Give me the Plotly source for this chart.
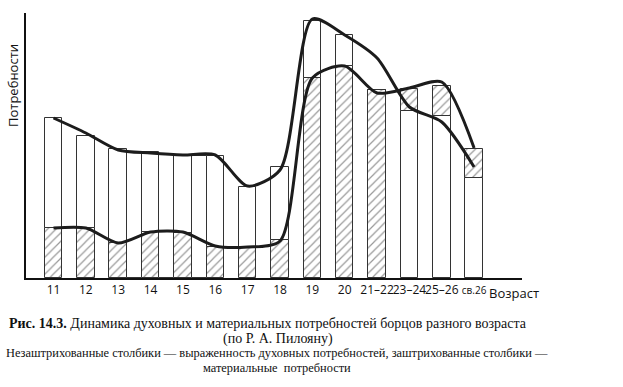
import plotly.graph_objects as go

# ---- data (arbitrary units) ----
ages = ["11", "12", "13", "14", "15", "16", "17", "18", "19", "20",
        "21–22", "23–24", "25–26", "св.26"]
tick_labels = ["11", "12", "13", "14", "15", "16", "17", "18", "19", "20",
               "21–22", "23–24", "25–26", "<span style='font-size:10px'>св.26</span>"]
# bar heights
spiritual = [160, 142, 129, 126, 123, 122, 91, 111, 257, 243, None, 167, 162, 100]
material = [50, 50, 35, 46, 45, 31, 31, 38, 200, 212, 188, 189, 192, 129]
# open columns drawn between neighbouring bars (13–14, 14–15, 15–16)
between_columns = [None, None, 126, 124, 122, None, None, None, None, None,
                   None, None, None, None]
# hand-drawn trend curves
spiritual_curve = [160, 145, 128, 125, 123, 123, 92, 108, 259, 243, 220, 171, 156, 111]
material_curve = [50, 50, 35, 46, 46, 32, 31, 37, 200, 212, 185, 190, 196, 130]

# ---- derived segments: the smaller bar is drawn in front ----
HATCH = "/"
bottom, top, bottom_pat, top_pat = [], [], [], []
for s, m in zip(spiritual, material):
    if s is None:
        bottom.append(m); top.append(0); bottom_pat.append(HATCH); top_pat.append("")
    elif m <= s:
        bottom.append(m); top.append(s - m); bottom_pat.append(HATCH); top_pat.append("")
    else:
        bottom.append(s); top.append(m - s); bottom_pat.append(""); top_pat.append(HATCH)

BAR_W = 0.54
fig = go.Figure()
bar_line = dict(color="#333333", width=1)

fig.add_trace(go.Bar(
    x=ages, y=between_columns, base=0, width=1 - BAR_W, offset=BAR_W / 2,
    marker=dict(color="white", line=bar_line),
    showlegend=False, hoverinfo="skip"))

for vals, base, pats in ((bottom, [0] * len(ages), bottom_pat), (top, bottom, top_pat)):
    fig.add_trace(go.Bar(
        x=ages, y=vals, base=base, width=BAR_W,
        marker=dict(color="white", line=bar_line,
                    pattern=dict(shape=pats, fgcolor="#333333", bgcolor="white",
                                 size=6, solidity=0.2, fillmode="overlay")),
        showlegend=False, hoverinfo="skip"))

for curve in (spiritual_curve, material_curve):
    fig.add_trace(go.Scatter(
        x=ages, y=curve, mode="lines",
        line=dict(color="#1c1c1c", width=3, shape="spline", smoothing=0.75),
        showlegend=False, hoverinfo="skip"))

W, H = 623, 387
L, R, T, B = 26, 101, 13, 109
pw, ph = W - L - R, H - T - B


def px(x):
    return (x - L) / pw


def py(y):
    return (H - B - y) / ph


fig.update_layout(
    width=W, height=H, margin=dict(l=L, r=R, t=T, b=B),
    paper_bgcolor="white", plot_bgcolor="white",
    barmode="overlay", bargap=0,
    font=dict(family="Open Sans", color="#111111"),
    xaxis=dict(type="category", categoryorder="array", categoryarray=ages,
               range=[-0.85, 14.48], showline=True, linecolor="#111111", linewidth=2,
               showgrid=False, zeroline=False, ticks="", tickangle=0,
               automargin=False,
               tickvals=ages, ticktext=tick_labels,
               tickfont=dict(size=12, family="Open Sans", color="#111111")),
    yaxis=dict(range=[0, 265], showline=True, linecolor="#111111", linewidth=2,
               showgrid=False, zeroline=False, showticklabels=False, ticks="",
               automargin=False),
)

ann = [
    dict(text="Потребности", x=px(13), y=py(86), textangle=-90,
         font=dict(size=13, family="Open Sans")),
    dict(text="Возраст", x=px(487), y=py(293), xanchor="left",
         font=dict(size=13, family="Open Sans")),
    dict(text="<b>Рис. 14.3.</b> Динамика духовных и материальных потребностей борцов разного возраста",
         x=px(7), y=py(323), xanchor="left", font=dict(size=14, family="Liberation Serif")),
    dict(text="(по Р. А. Пилояну)", x=px(277.5), y=py(339),
         font=dict(size=14, family="Liberation Serif")),
    dict(text="Незаштрихованные столбики — выраженность духовных потребностей, заштрихованные столбики —",
         x=px(277), y=py(353), font=dict(size=12.4, family="Liberation Serif")),
    dict(text="материальные  потребности", x=px(276.5), y=py(368),
         font=dict(size=12.4, family="Liberation Serif")),
]
for a in ann:
    a.setdefault("xanchor", "center")
    fig.add_annotation(xref="paper", yref="paper", showarrow=False,
                       yanchor="middle", **a)

fig.write_html("out.html", config={"displayModeBar": False},
               post_script="document.body.style.margin='0';")
